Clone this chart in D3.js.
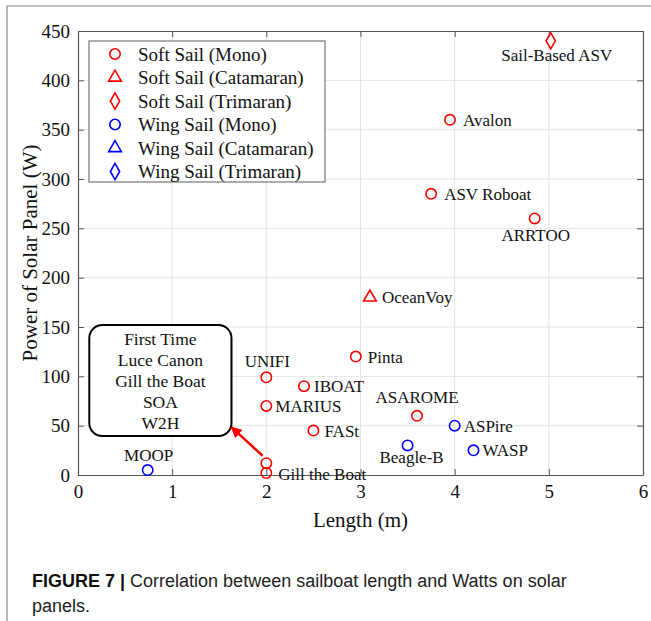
<!DOCTYPE html>
<html><head><meta charset="utf-8">
<script src="https://cdn.jsdelivr.net/npm/d3@7"></script>
<style>body{margin:0;background:#fff}svg{display:block}</style>
</head><body>
<svg id="c" width="651" height="621"></svg>
<script>
// ---- data ----
const names   = ["Sail-Based ASV","Avalon","ASV Roboat","ARRTOO","OceanVoy","Pinta","UNIFI","IBOAT","MARIUS","FASt","ASAROME","ASPire","Beagle-B","WASP","MOOP","","Gill the Boat"];
const lengths = [5.02, 3.95, 3.75, 4.85, 3.10, 2.95, 2.00, 2.40, 2.00, 2.50, 3.60, 4.00, 3.50, 4.20, 0.74, 2.00, 2.00];
const powers  = [440, 360, 285, 260, 180, 120, 99, 90, 70, 45, 60, 50, 30, 25, 5, 12, 2];
const sails   = ["Soft","Soft","Soft","Soft","Soft","Soft","Soft","Soft","Soft","Soft","Soft","Wing","Wing","Wing","Wing","Soft","Soft"];
const hulls   = ["Trimaran","Mono","Mono","Mono","Catamaran","Mono","Mono","Mono","Mono","Mono","Mono","Mono","Mono","Mono","Mono","Mono","Mono"];
const legendLabels = ["Soft Sail (Mono)","Soft Sail (Catamaran)","Soft Sail (Trimaran)","Wing Sail (Mono)","Wing Sail (Catamaran)","Wing Sail (Trimaran)"];
const legendSails  = ["Soft","Soft","Soft","Wing","Wing","Wing"];
const legendHulls  = ["Mono","Catamaran","Trimaran","Mono","Catamaran","Trimaran"];
const xTicks = [0,1,2,3,4,5,6];
const yTicks = [0,50,100,150,200,250,300,350,400,450];
const boxLines = ["First Time","Luce Canon","Gill the Boat","SOA","W2H"];
const xTitle = "Length (m)";
const yTitle = "Power of Solar Panel (W)";
const captionBold = "FIGURE 7 |";
const captionLine1 = " Correlation between sailboat length and Watts on solar";
const captionLine2 = "panels.";

// ---- drawing ----
const svg = d3.select("#c");
const serif = "'Liberation Serif','Times New Roman',serif";
const L = 78, R = 643, T = 31, B = 475;
const x = d3.scaleLinear().domain([0,6]).range([L,R]);
const y = d3.scaleLinear().domain([0,450]).range([B,T]);
const color = d3.scaleOrdinal().domain(["Soft","Wing"]).range(["#ff0000","#0000ff"]);
const symType = {Mono:d3.symbolCircle, Catamaran:d3.symbolTriangle, Trimaran:d3.symbolDiamond};
const symSize = {Mono:85, Catamaran:70, Trimaran:75};

// outer frame (top + left)
svg.append("path").attr("d",`M7,621V6H651`).attr("fill","none").attr("stroke","#8a8a8a").attr("stroke-width",1.2);

// grid
const g = svg.append("g");
g.selectAll(".gx").data(xTicks.slice(1,-1)).join("line")
  .attr("x1",d=>x(d)).attr("x2",d=>x(d)).attr("y1",T).attr("y2",B)
  .attr("stroke","#e4e4e4").attr("stroke-width",1);
g.selectAll(".gy").data(yTicks.slice(1,-1)).join("line")
  .attr("y1",d=>y(d)).attr("y2",d=>y(d)).attr("x1",L).attr("x2",R)
  .attr("stroke","#e4e4e4").attr("stroke-width",1);

// axes (ticks inward, all four sides)
const axColor = "#555";
const fmt = d3.format("d");
const axB = svg.append("g").attr("transform",`translate(0,${B})`).call(d3.axisBottom(x).tickValues(xTicks).tickFormat(fmt).tickSizeInner(-6).tickSizeOuter(0).tickPadding(10));
const axT = svg.append("g").attr("transform",`translate(0,${T})`).call(d3.axisTop(x).tickValues(xTicks).tickSizeInner(-6).tickSizeOuter(0).tickFormat(""));
const axL = svg.append("g").attr("transform",`translate(${L},0)`).call(d3.axisLeft(y).tickValues(yTicks).tickFormat(fmt).tickSizeInner(-6).tickSizeOuter(0).tickPadding(8));
const axR = svg.append("g").attr("transform",`translate(${R},0)`).call(d3.axisRight(y).tickValues(yTicks).tickSizeInner(-6).tickSizeOuter(0).tickFormat(""));
[axB,axT,axL,axR].forEach(a=>{
  a.select(".domain").attr("stroke",axColor).attr("stroke-width",1.2);
  a.selectAll(".tick line").attr("stroke",axColor).attr("stroke-width",1);
  a.selectAll("text").attr("font-family",serif).attr("font-size",19).attr("fill","#111");
});
axB.selectAll("text").attr("dy","0.71em");

// axis titles
svg.append("text").attr("x",(L+R)/2).attr("y",527).attr("text-anchor","middle")
  .attr("font-family",serif).attr("font-size",21).attr("fill","#111").text(xTitle);
svg.append("text").attr("transform",`translate(37,${(T+B)/2}) rotate(-90)`).attr("text-anchor","middle")
  .attr("font-family",serif).attr("font-size",21).attr("fill","#111").text(yTitle);

// annotation box + arrow
svg.append("rect").attr("x",x(0.12)).attr("y",y(152)).attr("width",x(1.63)-x(0.12)).attr("height",y(39.5)-y(152))
  .attr("rx",13).attr("fill","#fff").attr("stroke","#000").attr("stroke-width",2);
svg.selectAll(".bl").data(boxLines).join("text")
  .attr("x",(x(0.12)+x(1.63))/2).attr("y",(d,i)=>345+i*21).attr("text-anchor","middle")
  .attr("font-family",serif).attr("font-size",17.5).attr("fill","#111").text(d=>d);
const defs = svg.append("defs");
defs.append("marker").attr("id","ah").attr("viewBox","0 0 10 10").attr("refX",9).attr("refY",5)
  .attr("markerWidth",4.5).attr("markerHeight",4.5).attr("orient","auto")
  .append("path").attr("d","M0,0L10,5L0,10z").attr("fill","#ff0000");
svg.append("line").attr("x1",x(1.96)).attr("y1",y(19.5)).attr("x2",x(1.63)).attr("y2",y(48.5))
  .attr("stroke","#ff0000").attr("stroke-width",2.5).attr("marker-end","url(#ah)");

// points
const idx = d3.range(names.length);
svg.selectAll(".pt").data(idx).join("path")
  .attr("transform",i=>`translate(${x(lengths[i])},${y(powers[i])})`)
  .attr("d",i=>d3.symbol().type(symType[hulls[i]]).size(symSize[hulls[i]])())
  .attr("fill","none").attr("stroke",i=>color(sails[i])).attr("stroke-width",1.6);

// labels
const place = {
  "Sail-Based ASV":[6,20,"middle"], "Avalon":[13,6,"start"], "ASV Roboat":[13,6,"start"],
  "ARRTOO":[1,23,"middle"], "OceanVoy":[12,6,"start"], "Pinta":[12,6,"start"],
  "UNIFI":[1,-10,"middle"], "IBOAT":[10,6,"start"], "MARIUS":[9,6,"start"], "FASt":[11,6,"start"],
  "ASAROME":[0,-13,"middle"], "ASPire":[9,6,"start"], "Beagle-B":[4,18,"middle"], "WASP":[9,6,"start"],
  "MOOP":[1,-9,"middle"], "Gill the Boat":[12,7,"start"]
};
svg.selectAll(".lb").data(idx.filter(i=>names[i])).join("text")
  .attr("x",i=>x(lengths[i])+place[names[i]][0]).attr("y",i=>y(powers[i])+place[names[i]][1])
  .attr("text-anchor",i=>place[names[i]][2])
  .attr("font-family",serif).attr("font-size",17).attr("fill","#111").text(i=>names[i]);

// legend
const lg = svg.append("g");
lg.append("rect").attr("x",89).attr("y",41).attr("width",236).attr("height",141)
  .attr("fill","#fff").attr("stroke","#777").attr("stroke-width",1.2);
const ly = i=>54+i*23.5;
lg.selectAll(".lm").data(d3.range(legendLabels.length)).join("path")
  .attr("transform",i=>`translate(115,${ly(i)})`)
  .attr("d",i=>d3.symbol().type(symType[legendHulls[i]]).size(symSize[legendHulls[i]])())
  .attr("fill","none").attr("stroke",i=>color(legendSails[i])).attr("stroke-width",1.6);
lg.selectAll(".lt").data(d3.range(legendLabels.length)).join("text")
  .attr("x",138).attr("y",i=>ly(i)).attr("dy","0.35em")
  .attr("font-family",serif).attr("font-size",19).attr("fill","#111").text(i=>legendLabels[i]);

// caption
const sans = "'Liberation Sans',Arial,sans-serif";
const cap = svg.append("text").attr("x",32).attr("y",587).attr("font-family",sans).attr("font-size",18).attr("fill","#222");
cap.append("tspan").attr("font-weight","bold").attr("fill","#111").text(captionBold);
cap.append("tspan").text(captionLine1);
svg.append("text").attr("x",32).attr("y",612).attr("font-family",sans).attr("font-size",18).attr("fill","#222").text(captionLine2);
</script>
</body></html>
